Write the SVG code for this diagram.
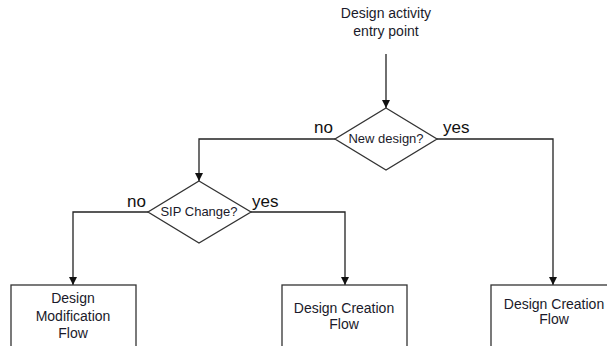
<svg xmlns="http://www.w3.org/2000/svg" width="607" height="346" viewBox="0 0 607 346">
<style>
.ln{fill:none;stroke:#222;stroke-width:1.3}
.sh{fill:#fff;stroke:#333;stroke-width:1.3}
.t{font-family:"Liberation Sans",Arial,sans-serif;font-size:14px;fill:#1a1a2a;text-anchor:middle}
.d{font-family:"Liberation Sans",Arial,sans-serif;font-size:13px;fill:#1a1a2a;text-anchor:middle}
.l{font-family:"Liberation Sans",Arial,sans-serif;font-size:17px;fill:#111}
</style>
<defs>
<marker id="arr" viewBox="0 0 10 10" refX="10" refY="5" markerWidth="8" markerHeight="9" markerUnits="userSpaceOnUse" orient="auto">
<path d="M0,0 L10,5 L0,10 Z" fill="#111"/>
</marker>
</defs>
<g id="entry">
<text class="t" x="386" y="18">Design activity</text>
<text class="t" x="386" y="36">entry point</text>
</g>
<g id="connectors">
<line class="ln" x1="386" y1="54" x2="386" y2="108" marker-end="url(#arr)"/>
<polyline class="ln" points="335,139 199,139 199,181" marker-end="url(#arr)"/>
<polyline class="ln" points="437,139 553,139 553,285" marker-end="url(#arr)"/>
<polyline class="ln" points="148,212 73,212 73,285" marker-end="url(#arr)"/>
<polyline class="ln" points="251,212 345,212 345,285" marker-end="url(#arr)"/>
<text class="l" x="314" y="133">no</text>
<text class="l" x="443" y="133">yes</text>
<text class="l" x="127" y="207">no</text>
<text class="l" x="252" y="207">yes</text>
</g>
<g id="new-design">
<polygon class="sh" points="386,108 437,139 386,170 335,139"/>
<text class="d" x="386" y="143">New design?</text>
</g>
<g id="sip-change">
<polygon class="sh" points="199,181 251,212 199,243 148,212"/>
<text class="d" x="199" y="216">SIP Change?</text>
</g>
<g id="modification-flow">
<rect class="sh" x="11" y="285" width="125" height="80"/>
<text class="t" x="73" y="303">Design</text>
<text class="t" x="73" y="321">Modification</text>
<text class="t" x="73" y="338">Flow</text>
</g>
<g id="creation-flow-1">
<rect class="sh" x="282" y="285" width="125" height="80"/>
<text class="t" x="344" y="313">Design Creation</text>
<text class="t" x="344" y="329">Flow</text>
</g>
<g id="creation-flow-2">
<rect class="sh" x="491" y="285" width="125" height="80"/>
<text class="t" x="554" y="309">Design Creation</text>
<text class="t" x="554" y="324">Flow</text>
</g>
</svg>
